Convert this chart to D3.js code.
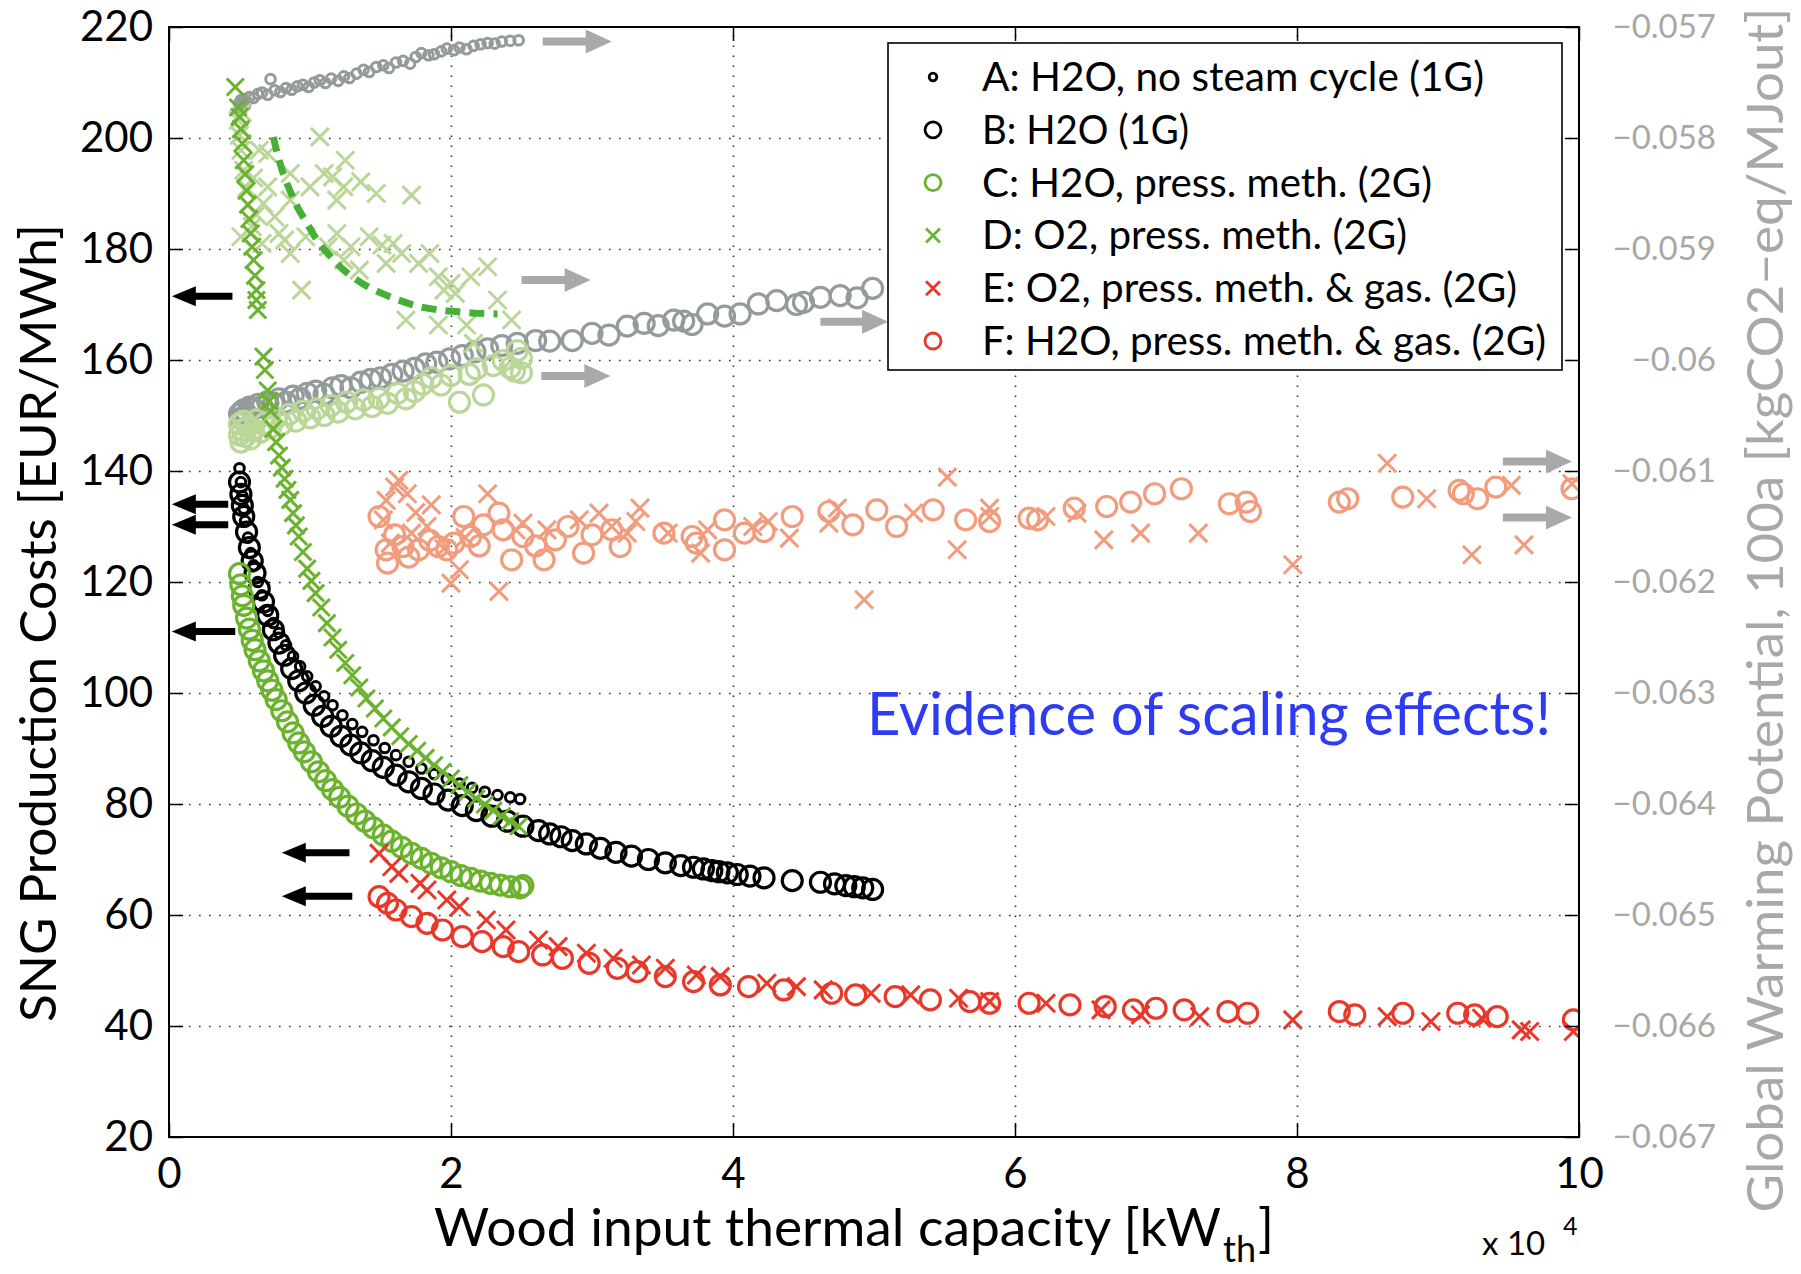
<!DOCTYPE html>
<html>
<head>
<meta charset="utf-8">
<script src="https://cdn.jsdelivr.net/npm/d3@7"></script>
<style>
  body { margin: 0; background: #fff; }
  text { font-family: Lato, "Open Sans", sans-serif; }
</style>
</head>
<body>
<div id="chart"></div>
<script>
// ---- data: x in units of 10^4 kW_th ----
// left axis: SNG production costs [EUR/MWh]
let costA = [[0.50,140.5],[0.51,138.0],[0.52,135.5],[0.53,133.2],[0.54,131.0],[0.56,128.0],[0.58,125.2],[0.60,123.0],[0.63,120.0],[0.66,117.6],[0.70,114.8],[0.74,112.6],[0.78,110.8],[0.83,108.6],[0.88,106.6],[0.93,104.8],[0.98,103.0],[1.04,101.2],[1.10,99.4],[1.16,97.8],[1.23,96.0],[1.30,94.4],[1.37,93.0],[1.45,91.5],[1.53,90.1],[1.61,88.8],[1.70,87.6],[1.79,86.4],[1.88,85.4],[1.97,84.5],[2.06,83.7],[2.15,82.9],[2.24,82.2],[2.33,81.6],[2.42,81.2],[2.49,80.9]];
let costB = [[0.50,138.0],[0.51,135.8],[0.52,133.8],[0.53,131.8],[0.55,129.0],[0.57,126.2],[0.59,123.8],[0.61,121.6],[0.64,118.8],[0.67,116.4],[0.70,114.0],[0.74,111.4],[0.78,109.0],[0.82,106.8],[0.87,104.4],[0.92,102.2],[0.97,100.0],[1.03,97.8],[1.09,95.8],[1.15,94.0],[1.22,92.2],[1.29,90.6],[1.36,89.2],[1.44,87.8],[1.52,86.6],[1.61,85.2],[1.70,84.0],[1.79,82.8],[1.88,81.8],[1.98,80.7],[2.08,79.7],[2.18,78.8],[2.29,77.8],[2.40,76.9],[2.51,76.0],[2.62,75.2],[2.70,74.6],[2.78,74.1],[2.86,73.4],[2.96,72.8],[3.06,72.0],[3.17,71.3],[3.28,70.6],[3.40,70.0],[3.52,69.4],[3.63,68.9],[3.72,68.6],[3.79,68.3],[3.85,68.0],[3.90,67.8],[3.96,67.6],[4.03,67.3],[4.12,67.0],[4.22,66.7],[4.42,66.2],[4.62,65.9],[4.72,65.6],[4.80,65.3],[4.86,65.1],[4.92,64.9],[4.99,64.6]];
let costC = [[0.50,121.5],[0.51,119.5],[0.52,117.5],[0.53,115.8],[0.55,113.5],[0.57,111.5],[0.59,109.5],[0.61,107.8],[0.64,105.8],[0.67,104.0],[0.70,102.2],[0.73,100.5],[0.76,98.8],[0.80,96.8],[0.84,94.8],[0.88,92.8],[0.92,91.0],[0.96,89.4],[1.01,87.6],[1.06,85.8],[1.11,84.2],[1.16,82.6],[1.21,81.2],[1.27,79.6],[1.33,78.2],[1.39,76.9],[1.45,75.7],[1.52,74.4],[1.58,73.3],[1.65,72.2],[1.72,71.1],[1.79,70.2],[1.86,69.3],[1.93,68.5],[2.00,67.8],[2.07,67.1],[2.14,66.6],[2.21,66.1],[2.28,65.7],[2.35,65.4],[2.42,65.1],[2.49,64.9],[2.51,65.3]];
let costD = [[0.47,209.2],[0.49,205.5],[0.50,203.8],[0.51,201.6],[0.52,199.0],[0.53,196.0],[0.54,193.5],[0.55,190.5],[0.56,188.0],[0.57,185.4],[0.58,182.8],[0.59,180.4],[0.60,178.0],[0.61,175.2],[0.62,172.6],[0.62,170.8],[0.63,169.0],[0.67,160.6],[0.68,158.2],[0.70,154.5],[0.71,152.6],[0.72,150.8],[0.74,147.6],[0.76,145.2],[0.78,142.8],[0.80,140.6],[0.82,138.6],[0.84,136.6],[0.86,134.8],[0.88,132.4],[0.90,130.2],[0.92,128.2],[0.95,125.4],[0.98,122.4],[1.01,120.2],[1.04,118.0],[1.08,115.4],[1.12,112.6],[1.16,110.0],[1.20,107.8],[1.25,105.4],[1.30,103.2],[1.35,101.0],[1.40,99.0],[1.46,97.2],[1.52,95.4],[1.58,93.8],[1.64,92.2],[1.70,90.8],[1.76,89.6],[1.82,88.3],[1.88,87.0],[1.94,85.8],[2.00,84.6],[2.06,83.4],[2.12,82.2],[2.18,81.0],[2.24,79.9],[2.30,78.8],[2.36,77.8],[2.42,76.9],[2.48,76.0]];
let costE = [[1.49,71.1],[1.58,68.7],[1.63,67.5],[1.78,65.7],[1.83,64.5],[1.97,62.7],[2.06,61.5],[2.25,59.1],[2.39,57.3],[2.62,55.5],[2.76,54.3],[2.96,53.1],[3.15,52.2],[3.35,51.0],[3.52,50.4],[3.74,49.2],[3.91,48.9],[4.24,47.7],[4.45,47.1],[4.64,46.5],[4.98,45.9],[5.26,45.6],[5.60,45.0],[5.82,44.4],[6.22,44.1],[6.61,42.9],[6.89,42.0],[7.31,41.7],[7.97,41.1],[8.64,41.7],[8.95,40.8],[9.31,41.4],[9.59,39.3],[9.65,39.0],[9.96,39.0]];
let costF = [[1.49,63.3],[1.55,62.1],[1.61,60.9],[1.72,59.7],[1.83,58.5],[1.94,57.3],[2.08,56.1],[2.22,55.2],[2.37,54.3],[2.48,53.4],[2.65,52.8],[2.79,52.2],[2.98,51.3],[3.18,50.4],[3.32,49.8],[3.52,48.9],[3.72,48.0],[3.91,47.4],[4.11,47.1],[4.36,46.5],[4.70,45.9],[4.87,45.6],[5.15,45.3],[5.40,44.7],[5.68,44.4],[5.82,44.1],[6.10,44.1],[6.39,43.8],[6.64,43.5],[6.84,42.9],[7.00,43.2],[7.20,42.9],[7.51,42.6],[7.65,42.3],[8.30,42.6],[8.41,42.0],[8.75,42.3],[9.14,42.3],[9.26,42.0],[9.42,41.7],[9.96,41.1]];

// right axis: GWP 100a [kgCO2-eq/MJout]
let gwpA = [[0.50,-0.057685],[0.50,-0.057710],[0.51,-0.057660],[0.51,-0.057725],[0.52,-0.057700],[0.52,-0.057655],[0.53,-0.057650],[0.54,-0.057705],[0.55,-0.057670],[0.57,-0.057630],[0.60,-0.057640],[0.63,-0.057605],[0.66,-0.057590],[0.70,-0.057610],[0.72,-0.057470],[0.75,-0.057570],[0.79,-0.057585],[0.83,-0.057550],[0.87,-0.057565],[0.91,-0.057535],[0.95,-0.057520],[0.99,-0.057540],[1.03,-0.057500],[1.07,-0.057480],[1.11,-0.057505],[1.15,-0.057465],[1.20,-0.057485],[1.24,-0.057445],[1.28,-0.057460],[1.33,-0.057420],[1.38,-0.057385],[1.42,-0.057405],[1.47,-0.057360],[1.52,-0.057345],[1.56,-0.057370],[1.61,-0.057320],[1.66,-0.057305],[1.71,-0.057330],[1.75,-0.057270],[1.79,-0.057235],[1.84,-0.057255],[1.88,-0.057245],[1.93,-0.057220],[1.97,-0.057195],[2.02,-0.057210],[2.06,-0.057185],[2.11,-0.057200],[2.16,-0.057170],[2.21,-0.057155],[2.26,-0.057145],[2.31,-0.057150],[2.36,-0.057130],[2.42,-0.057125],[2.48,-0.057120]];
let gwpB = [[0.50,-0.060485],[0.51,-0.060525],[0.52,-0.060460],[0.53,-0.060450],[0.55,-0.060490],[0.57,-0.060425],[0.60,-0.060440],[0.63,-0.060400],[0.66,-0.060420],[0.70,-0.060375],[0.74,-0.060390],[0.78,-0.060350],[0.83,-0.060380],[0.88,-0.060325],[0.93,-0.060345],[0.98,-0.060300],[1.04,-0.060280],[1.10,-0.060310],[1.16,-0.060250],[1.22,-0.060230],[1.29,-0.060250],[1.36,-0.060200],[1.43,-0.060175],[1.50,-0.060160],[1.58,-0.060130],[1.66,-0.060100],[1.74,-0.060075],[1.82,-0.060035],[1.90,-0.060020],[1.99,-0.059990],[2.08,-0.059960],[2.17,-0.059925],[2.26,-0.059900],[2.36,-0.059870],[2.47,-0.059850],[2.60,-0.059825],[2.70,-0.059830],[2.86,-0.059825],[3.00,-0.059760],[3.12,-0.059775],[3.25,-0.059695],[3.37,-0.059670],[3.47,-0.059690],[3.58,-0.059640],[3.65,-0.059650],[3.71,-0.059680],[3.82,-0.059585],[3.94,-0.059605],[4.05,-0.059585],[4.18,-0.059495],[4.31,-0.059465],[4.45,-0.059500],[4.50,-0.059480],[4.62,-0.059435],[4.76,-0.059420],[4.88,-0.059440],[4.99,-0.059355]];
let gwpC = [[0.50,-0.060675],[0.50,-0.060575],[0.51,-0.060740],[0.52,-0.060630],[0.53,-0.060550],[0.54,-0.060690],[0.56,-0.060600],[0.58,-0.060710],[0.60,-0.060625],[0.62,-0.060540],[0.65,-0.060650],[0.68,-0.060570],[0.72,-0.060610],[0.76,-0.060525],[0.80,-0.060580],[0.85,-0.060490],[0.90,-0.060550],[0.95,-0.060460],[1.00,-0.060520],[1.05,-0.060440],[1.10,-0.060500],[1.15,-0.060410],[1.20,-0.060470],[1.26,-0.060380],[1.32,-0.060440],[1.38,-0.060360],[1.44,-0.060420],[1.49,-0.060345],[1.55,-0.060390],[1.62,-0.060300],[1.68,-0.060350],[1.74,-0.060285],[1.80,-0.060220],[1.86,-0.060160],[1.93,-0.060225],[2.00,-0.060140],[2.06,-0.060380],[2.13,-0.060130],[2.18,-0.060080],[2.23,-0.060315],[2.30,-0.060050],[2.37,-0.060005],[2.42,-0.060070],[2.45,-0.060100],[2.47,-0.059915],[2.50,-0.060115],[2.50,-0.059985]];
let gwpD = [[0.49,-0.057840],[0.50,-0.057975],[0.51,-0.058110],[0.52,-0.057770],[0.51,-0.058890],[0.53,-0.058290],[0.55,-0.058450],[0.59,-0.058800],[0.60,-0.058360],[0.62,-0.058690],[0.64,-0.058110],[0.66,-0.058950],[0.67,-0.058590],[0.70,-0.058140],[0.70,-0.058440],[0.75,-0.058710],[0.78,-0.058860],[0.82,-0.058920],[0.86,-0.058560],[0.86,-0.058320],[0.86,-0.059040],[0.94,-0.059370],[0.97,-0.058890],[1.00,-0.058440],[1.07,-0.057990],[1.10,-0.058320],[1.13,-0.058980],[1.16,-0.058350],[1.19,-0.058860],[1.19,-0.058560],[1.24,-0.058440],[1.24,-0.059100],[1.25,-0.058200],[1.29,-0.058980],[1.35,-0.059190],[1.36,-0.058395],[1.42,-0.058890],[1.47,-0.058500],[1.51,-0.058965],[1.54,-0.059130],[1.59,-0.058950],[1.65,-0.059040],[1.68,-0.059640],[1.72,-0.058515],[1.77,-0.059130],[1.85,-0.059040],[1.91,-0.059250],[1.91,-0.059685],[1.95,-0.059370],[2.00,-0.059310],[2.03,-0.059400],[2.11,-0.059685],[2.14,-0.059250],[2.16,-0.059850],[2.26,-0.059160],[2.33,-0.059460],[2.43,-0.059640]];
let gwpDTrend = [[0.74,-0.057990],[0.77,-0.058150],[0.81,-0.058320],[0.86,-0.058480],[0.91,-0.058620],[0.98,-0.058770],[1.05,-0.058920],[1.14,-0.059060],[1.24,-0.059190],[1.37,-0.059310],[1.51,-0.059400],[1.65,-0.059470],[1.78,-0.059520],[1.92,-0.059550],[2.05,-0.059565],[2.20,-0.059580],[2.33,-0.059585]];
let gwpE = [[1.52,-0.061440],[1.54,-0.061265],[1.57,-0.061650],[1.60,-0.061145],[1.63,-0.061085],[1.69,-0.061205],[1.72,-0.061560],[1.75,-0.061375],[1.83,-0.061500],[1.86,-0.061305],[1.95,-0.061700],[2.00,-0.062010],[2.06,-0.061890],[2.10,-0.061600],[2.26,-0.061205],[2.34,-0.062085],[2.46,-0.061530],[2.51,-0.061470],[2.68,-0.061530],[2.91,-0.061440],[3.05,-0.061380],[3.14,-0.061500],[3.25,-0.061560],[3.31,-0.061455],[3.34,-0.061335],[3.54,-0.061560],[3.77,-0.061740],[3.82,-0.061530],[4.14,-0.061500],[4.25,-0.061455],[4.40,-0.061605],[4.68,-0.061470],[4.74,-0.061335],[4.93,-0.062160],[5.28,-0.061380],[5.52,-0.061055],[5.59,-0.061710],[5.82,-0.061335],[5.82,-0.061410],[6.22,-0.061410],[6.44,-0.061380],[6.63,-0.061620],[6.89,-0.061560],[7.30,-0.061560],[7.97,-0.061845],[8.64,-0.060930],[8.92,-0.061250],[9.24,-0.061755],[9.52,-0.061130],[9.61,-0.061665],[9.95,-0.061115]];
let gwpF = [[1.49,-0.061410],[1.54,-0.061710],[1.55,-0.061830],[1.60,-0.061575],[1.66,-0.061680],[1.70,-0.061775],[1.77,-0.061710],[1.85,-0.061625],[1.91,-0.061680],[1.97,-0.061710],[2.02,-0.061650],[2.09,-0.061410],[2.14,-0.061590],[2.20,-0.061675],[2.23,-0.061485],[2.34,-0.061380],[2.37,-0.061530],[2.43,-0.061800],[2.51,-0.061590],[2.60,-0.061675],[2.66,-0.061800],[2.74,-0.061620],[2.83,-0.061500],[2.94,-0.061740],[3.00,-0.061575],[3.14,-0.061530],[3.20,-0.061680],[3.51,-0.061560],[3.71,-0.061590],[3.74,-0.061650],[3.94,-0.061440],[3.94,-0.061710],[4.08,-0.061560],[4.22,-0.061545],[4.42,-0.061410],[4.68,-0.061365],[4.85,-0.061485],[5.02,-0.061350],[5.16,-0.061500],[5.42,-0.061350],[5.65,-0.061440],[5.82,-0.061455],[6.10,-0.061425],[6.16,-0.061440],[6.42,-0.061335],[6.65,-0.061320],[6.82,-0.061280],[6.99,-0.061205],[7.18,-0.061160],[7.52,-0.061295],[7.64,-0.061280],[7.67,-0.061365],[8.30,-0.061280],[8.36,-0.061250],[8.75,-0.061235],[9.15,-0.061175],[9.18,-0.061205],[9.28,-0.061250],[9.41,-0.061145],[9.95,-0.061160]];

// arrows: [xStart, xEnd, cost level]  (black point to the left axis, grey to the right axis)
let arrowsLeft = [[0.45,0.02,171.5],[0.42,0.02,134.0],[0.42,0.02,130.3],[0.47,0.02,111.1],[1.28,0.80,71.2],[1.30,0.80,63.4]];
let arrowsRight = [[2.65,3.14,217.4],[2.50,2.99,174.4],[2.64,3.13,157.1],[4.62,5.10,166.9],[9.46,9.95,141.7],[9.46,9.95,131.6]];

let xTicks = [0, 2, 4, 6, 8, 10];
let yTicks = [20, 40, 60, 80, 100, 120, 140, 160, 180, 200, 220];
let gwpTicks = [-0.067, -0.066, -0.065, -0.064, -0.063, -0.062, -0.061, -0.060, -0.059, -0.058, -0.057];
let legendLabels = ["A: H2O, no steam cycle (1G)", "B: H2O (1G)", "C: H2O, press. meth. (2G)",
                    "D: O2, press. meth. (2G)", "E: O2, press. meth. & gas. (2G)", "F: H2O, press. meth. & gas. (2G)"];

// ---- layout ----
let W = 1801, H = 1274;
let L = 169, R = 1579, T = 27, B = 1137;
let black = "#000", green = "#6bb32e", red = "#e8382a", grey = "#949b9b",
    lgreen = "#bad799", salmon = "#f19c7d", arrowGrey = "#a9a9a9", axisGrey = "#a8a8a8";

let svg = d3.select("#chart").append("svg").attr("width", W).attr("height", H);

let x = d3.scaleLinear().domain([0, 10]).range([L, R]);
let y = d3.scaleLinear().domain([20, 220]).range([B, T]);
let y2 = d3.scaleLinear().domain([-0.067, -0.057]).range([B, T]);

svg.append("defs").append("clipPath").attr("id", "plot")
   .append("rect").attr("x", L).attr("y", T).attr("width", R - L).attr("height", B - T);

// dotted grid
svg.append("g")
   .attr("transform", `translate(0,${B})`)
   .call(d3.axisBottom(x).tickValues(xTicks.slice(1, -1)).tickSize(-(B - T)).tickFormat(""))
   .call(g => g.select(".domain").remove())
   .selectAll("line").attr("stroke", "#333").attr("stroke-width", 1.6).attr("stroke-dasharray", "1.6,8.4");
svg.append("g")
   .attr("transform", `translate(${L},0)`)
   .call(d3.axisLeft(y).tickValues(yTicks.slice(1, -1)).tickSize(-(R - L)).tickFormat(""))
   .call(g => g.select(".domain").remove())
   .selectAll("line").attr("stroke", "#333").attr("stroke-width", 1.6).attr("stroke-dasharray", "1.6,8.4");

// markers
let plot = svg.append("g").attr("clip-path", "url(#plot)");

function circles(data, ys, color, r, sw) {
  plot.append("g").attr("fill", "none").attr("stroke", color).attr("stroke-width", sw)
      .selectAll("circle").data(data).join("circle")
      .attr("cx", d => x(d[0])).attr("cy", d => ys(d[1])).attr("r", r);
}
function crosses(data, ys, color, s, sw) {
  plot.append("g").attr("fill", "none").attr("stroke", color).attr("stroke-width", sw)
      .selectAll("path").data(data).join("path")
      .attr("d", d => {
        let cx = x(d[0]), cy = ys(d[1]);
        return `M${cx - s},${cy - s}L${cx + s},${cy + s}M${cx - s},${cy + s}L${cx + s},${cy - s}`;
      });
}

// GWP (light colours, right axis)
circles(gwpA, y2, grey, 4.8, 3);
circles(gwpB, y2, grey, 10, 3.2);
circles(gwpC, y2, lgreen, 10, 3.2);
crosses(gwpD, y2, lgreen, 9, 3);
crosses(gwpE, y2, salmon, 9, 3);
circles(gwpF, y2, salmon, 10, 3.2);

plot.append("path").datum(gwpDTrend)
    .attr("fill", "none").attr("stroke", "#45b035").attr("stroke-width", 7)
    .attr("stroke-dasharray", "15,9")
    .attr("d", d3.line().x(d => x(d[0])).y(d => y2(d[1])).curve(d3.curveCatmullRom));

// costs (left axis)
circles(costB, y, black, 10, 3.2);
circles(costA, y, black, 4.8, 3);
circles(costC, y, green, 10, 3.2);
crosses(costD, y, green, 8.5, 3);
circles(costF, y, red, 10, 3.2);
crosses(costE, y, red, 9, 3);

// arrows
function arrows(data, color, shaft, headLen, headHalf) {
  svg.append("g").selectAll("path").data(data).join("path")
     .attr("fill", color)
     .attr("d", d => {
       let x0 = x(d[0]), x1 = x(d[1]), yy = y(d[2]);
       let dir = x1 > x0 ? 1 : -1;
       let xb = x1 - dir * headLen, h = shaft / 2;
       return `M${x0},${yy - h}L${xb},${yy - h}L${xb},${yy - headHalf}L${x1},${yy}` +
              `L${xb},${yy + headHalf}L${xb},${yy + h}L${x0},${yy + h}Z`;
     });
}
arrows(arrowsLeft, black, 7, 24, 10);
arrows(arrowsRight, arrowGrey, 8, 26, 12);

// frame and axes
svg.append("rect").attr("x", L).attr("y", T).attr("width", R - L).attr("height", B - T)
   .attr("fill", "none").attr("stroke", "#000").attr("stroke-width", 2);

let axisStyle = g => {
  g.select(".domain").remove();
  g.selectAll("line").attr("stroke", "#000").attr("stroke-width", 1.5);
  g.selectAll("text").attr("font-family", "Lato, sans-serif").attr("font-size", 42).attr("fill", "#000");
};

svg.append("g").attr("transform", `translate(${L},0)`)
   .call(d3.axisLeft(y).tickValues(yTicks).tickSizeInner(-14).tickSizeOuter(0).tickPadding(16))
   .call(axisStyle);
svg.append("g").attr("transform", `translate(0,${B})`)
   .call(d3.axisBottom(x).tickValues(xTicks).tickSizeInner(-14).tickSizeOuter(0).tickPadding(21))
   .call(axisStyle);
svg.append("g").attr("transform", `translate(0,${T})`)
   .call(d3.axisTop(x).tickValues(xTicks).tickSizeInner(-14).tickSizeOuter(0).tickFormat(""))
   .call(axisStyle);
svg.append("g").attr("transform", `translate(${R},0)`)
   .call(d3.axisRight(y).tickValues(yTicks).tickSizeInner(-14).tickSizeOuter(0).tickFormat(""))
   .call(axisStyle);

// right (GWP) axis labels
let fmt = d3.format(".3~f");
svg.append("g").attr("transform", `translate(${R},0)`)
   .call(d3.axisRight(y2).tickValues(gwpTicks).tickSize(0).tickFormat(fmt))
   .call(g => g.select(".domain").remove())
   .selectAll("text")
   .attr("x", 137).attr("text-anchor", "end")
   .attr("font-family", "'DejaVu Sans', sans-serif").attr("font-size", 33).attr("fill", axisGrey);

// axis titles
svg.append("text").attr("transform", "translate(56,623) rotate(-90)")
   .attr("text-anchor", "middle").attr("font-size", 50).attr("fill", "#000")
   .attr("textLength", 798).attr("lengthAdjust", "spacingAndGlyphs")
   .text("SNG Production Costs [EUR/MWh]");

svg.append("text").attr("transform", "translate(1783,610) rotate(-90)")
   .attr("text-anchor", "middle").attr("font-size", 50).attr("fill", axisGrey)
   .attr("textLength", 1205).attr("lengthAdjust", "spacingAndGlyphs")
   .text("Global Warming Potential, 100a [kgCO2\u2212eq/MJout]");

svg.append("text").attr("x", 434).attr("y", 1246).attr("font-size", 52)
   .attr("textLength", 787).attr("lengthAdjust", "spacingAndGlyphs")
   .text("Wood input thermal capacity [kW");
svg.append("text").attr("x", 1223).attr("y", 1262).attr("font-size", 36).text("th");
svg.append("text").attr("x", 1258).attr("y", 1246).attr("font-size", 52).text("]");

svg.append("text").attr("x", 1482).attr("y", 1255).attr("font-size", 33).text("x 10");
svg.append("text").attr("x", 1563).attr("y", 1235).attr("font-size", 25).text("4");

// annotation
svg.append("text").attr("x", 867).attr("y", 735).attr("font-size", 60).attr("fill", "#2d3cf2")
   .attr("textLength", 684).attr("lengthAdjust", "spacingAndGlyphs")
   .text("Evidence of scaling effects!");

// legend
let leg = svg.append("g");
leg.append("rect").attr("x", 888).attr("y", 43).attr("width", 674).attr("height", 327)
   .attr("fill", "#fff").attr("stroke", "#000").attr("stroke-width", 1.6);
let legWidths = [502, 207, 450, 425, 535, 564];
let legMarks = [["o", black, 3.8], ["o", black, 8], ["o", green, 8], ["x", green, 7], ["x", red, 7], ["o", red, 8]];
legendLabels.forEach((lab, i) => {
  let cy = 77 + i * 52.8, cx = 933;
  let m = legMarks[i];
  if (m[0] === "o") {
    leg.append("circle").attr("cx", cx).attr("cy", cy).attr("r", m[2])
       .attr("fill", "none").attr("stroke", m[1]).attr("stroke-width", 2.8);
  } else {
    let s = m[2];
    leg.append("path").attr("d", `M${cx - s},${cy - s}L${cx + s},${cy + s}M${cx - s},${cy + s}L${cx + s},${cy - s}`)
       .attr("stroke", m[1]).attr("stroke-width", 2.8);
  }
  leg.append("text").attr("x", 982).attr("y", cy + 14).attr("font-size", 40)
     .attr("textLength", legWidths[i]).attr("lengthAdjust", "spacingAndGlyphs").text(lab);
});
</script>
</body>
</html>
